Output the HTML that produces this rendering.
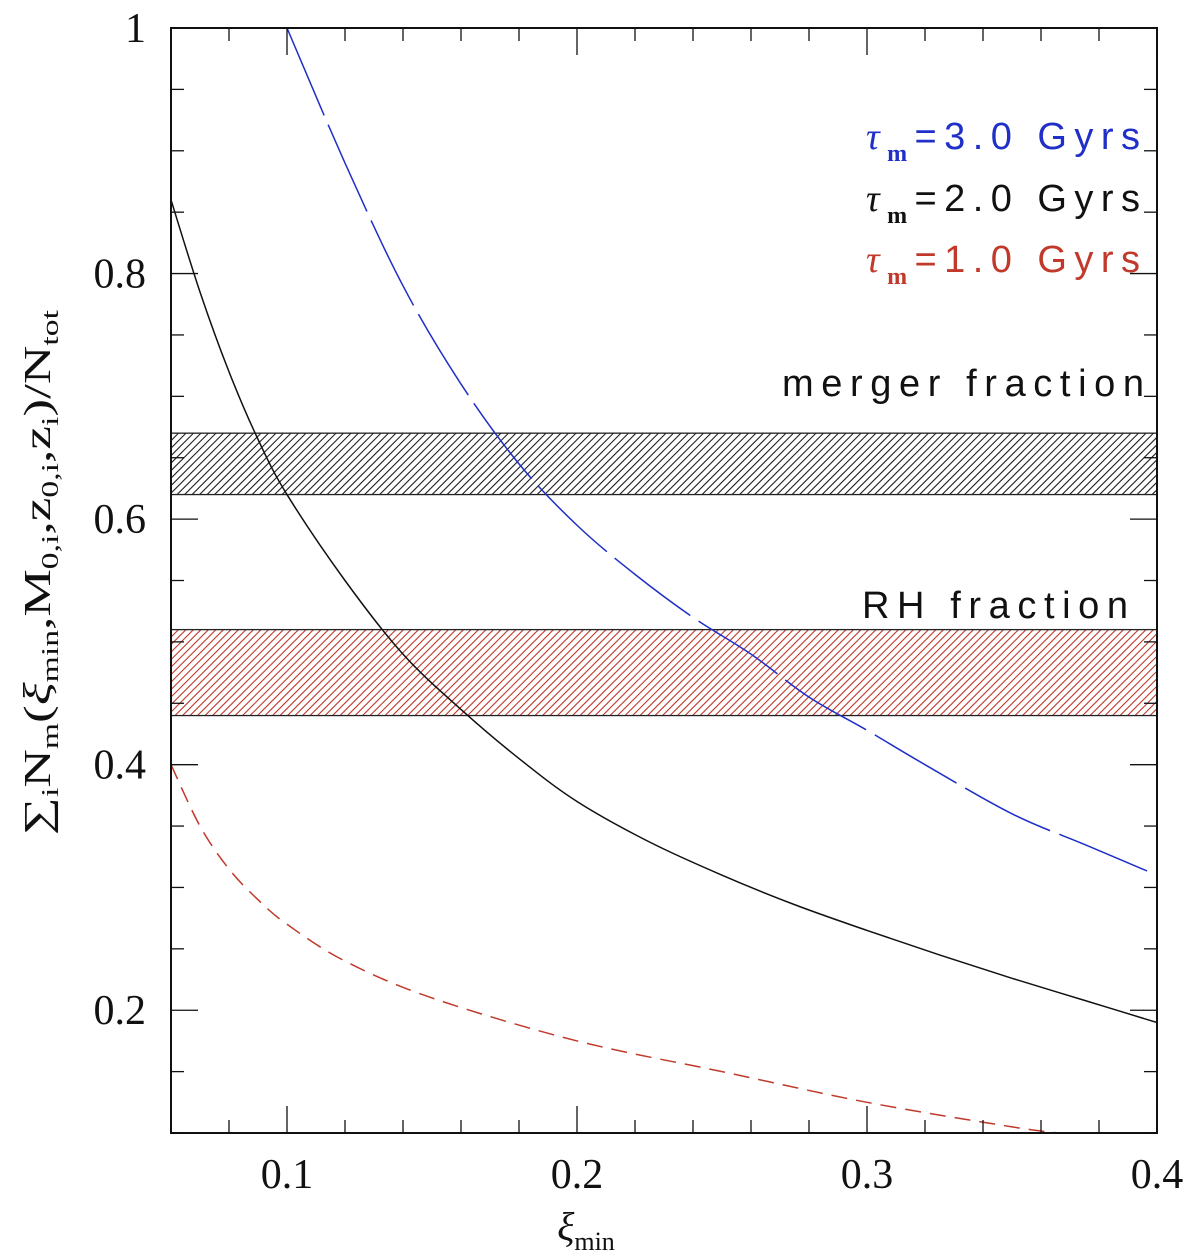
<!DOCTYPE html>
<html><head><meta charset="utf-8"><style>
html,body{margin:0;padding:0;background:#fff;}
svg{display:block;font-family:"Liberation Serif",serif;}
</style></head><body>
<svg id="chart" width="1200" height="1259" viewBox="0 0 1200 1259" xmlns="http://www.w3.org/2000/svg">
<defs>
<clipPath id="clip"><rect x="171" y="28" width="986" height="1105"/></clipPath>
<clipPath id="clipM"><rect id="clipMr" x="0" y="0" width="0" height="0"/></clipPath>
<clipPath id="clipR"><rect id="clipRr" x="0" y="0" width="0" height="0"/></clipPath>
</defs>
<g id="bands"></g>
<g id="curves"></g>
<g id="axes"></g>
<text x="866" y="149" font-size="38" fill="#1f2fc8" font-family="Liberation Sans,sans-serif" textLength="274" lengthAdjust="spacing"><tspan font-style="italic" font-family="Liberation Serif,serif">τ</tspan><tspan font-size="24" dy="12" font-family="Liberation Serif,serif" font-weight="bold">m</tspan><tspan dy="-12">=3.0 Gyrs</tspan></text>
<text x="866" y="211" font-size="38" fill="#111" font-family="Liberation Sans,sans-serif" textLength="274" lengthAdjust="spacing"><tspan font-style="italic" font-family="Liberation Serif,serif">τ</tspan><tspan font-size="24" dy="12" font-family="Liberation Serif,serif" font-weight="bold">m</tspan><tspan dy="-12">=2.0 Gyrs</tspan></text>
<text x="866" y="272" font-size="38" fill="#c0392b" font-family="Liberation Sans,sans-serif" textLength="274" lengthAdjust="spacing"><tspan font-style="italic" font-family="Liberation Serif,serif">τ</tspan><tspan font-size="24" dy="12" font-family="Liberation Serif,serif" font-weight="bold">m</tspan><tspan dy="-12">=1.0 Gyrs</tspan></text>
<text x="782" y="396" font-size="38" fill="#111" font-family="Liberation Sans,sans-serif" textLength="362" lengthAdjust="spacing">merger fraction</text>
<text x="862" y="618" font-size="38" fill="#111" font-family="Liberation Sans,sans-serif" textLength="266" lengthAdjust="spacing">RH fraction</text>
<text x="586" y="1240" text-anchor="middle" font-size="40" fill="#111"><tspan font-style="italic">ξ</tspan><tspan font-size="26" dy="10">min</tspan></text>
<text transform="translate(50,835) rotate(-90)" font-size="38" fill="#111" textLength="525" lengthAdjust="spacingAndGlyphs">∑<tspan font-size="24" dy="8">i</tspan><tspan dy="-8">N</tspan><tspan font-size="24" dy="8">m</tspan><tspan dy="-8">(</tspan><tspan font-style="italic">ξ</tspan><tspan font-size="24" dy="8">min</tspan><tspan dy="-8">,M</tspan><tspan font-size="24" dy="8">0,i</tspan><tspan dy="-8">,z</tspan><tspan font-size="24" dy="8">0,i</tspan><tspan dy="-8">,z</tspan><tspan font-size="24" dy="8">i</tspan><tspan dy="-8">)/N</tspan><tspan font-size="24" dy="8">tot</tspan></text>
</svg>
<script>
const xTickValues=[0.1,0.2,0.3,0.4];
const xTickLabels=["0.1","0.2","0.3","0.4"];
const yTickValues=[0.2,0.4,0.6,0.8,1];
const yTickLabels=["0.2","0.4","0.6","0.8","1"];
const bandMerger=[0.62,0.67];
const bandRH=[0.44,0.51];
const xiValues=[0.06,0.07,0.08,0.09,0.1,0.12,0.14,0.16,0.18,0.2,0.225,0.25,0.275,0.3,0.325,0.35,0.375,0.4];
const tau2Values=[0.86,0.785,0.72,0.665,0.62,0.55,0.49,0.445,0.405,0.37,0.337,0.31,0.286,0.265,0.245,0.226,0.208,0.19];
const tau3Xi=[0.1,0.12,0.14,0.16,0.18,0.2,0.22,0.24,0.26,0.28,0.3,0.32,0.35,0.375,0.4];
const tau3Values=[1.0,0.89,0.79,0.71,0.645,0.595,0.555,0.52,0.49,0.455,0.428,0.40,0.36,0.335,0.31];
const tau1Xi=[0.06,0.07,0.08,0.09,0.1,0.12,0.15,0.2,0.25,0.3,0.35,0.366];
const tau1Values=[0.40,0.35,0.315,0.29,0.27,0.24,0.21,0.175,0.15,0.125,0.105,0.1];

const X0=171,X1=1157,Y0=28,Y1=1133,xmin=0.06,xmax=0.4,ymin=0.1,ymax=1;
const sx=v=>X0+(v-xmin)/(xmax-xmin)*(X1-X0);
const sy=v=>Y1-(v-ymin)/(ymax-ymin)*(Y1-Y0);
const NS="http://www.w3.org/2000/svg";
function mk(tag,attrs,parent){const e=document.createElementNS(NS,tag);for(const k in attrs)e.setAttribute(k,attrs[k]);parent.appendChild(e);return e;}
const bands=document.getElementById('bands'),curves=document.getElementById('curves'),axes=document.getElementById('axes');

function hatchBand(lo,hi,color,clipId,name){
  const yt=sy(hi),yb=sy(lo),h=yb-yt;
  const r=document.getElementById(clipId+'r');
  r.setAttribute('x',X0);r.setAttribute('y',yt);r.setAttribute('width',X1-X0);r.setAttribute('height',h);
  const g=mk('g',{'clip-path':'url(#'+clipId+')'},bands);
  
  
  let d='';
  for(let x=X0-h;x<X1+h;x+=7.5){d+=`M${x},${yb} L${x+h},${yt} `;}
  mk('path',{d:d,stroke:color,'stroke-width':1.1,fill:'none'},g);
  mk('rect',{x:X0,y:yt,width:X1-X0,height:h,fill:'none',stroke:'#222','stroke-width':1.3},bands);
}
hatchBand(bandMerger[0],bandMerger[1],'#222','clipM','merger-fraction-band');
hatchBand(bandRH[0],bandRH[1],'#c0392b','clipR','rh-fraction-band');

function smoothPath(xs,ys){
  const p=xs.map((x,i)=>[sx(x),sy(ys[i])]);
  let d=`M${p[0][0]},${p[0][1]}`;
  for(let i=0;i<p.length-1;i++){
    const p0=p[Math.max(0,i-1)],p1=p[i],p2=p[i+1],p3=p[Math.min(p.length-1,i+2)];
    const c1=[p1[0]+(p2[0]-p0[0])/6,p1[1]+(p2[1]-p0[1])/6];
    const c2=[p2[0]-(p3[0]-p1[0])/6,p2[1]-(p3[1]-p1[1])/6];
    d+=` C${c1[0]},${c1[1]} ${c2[0]},${c2[1]} ${p2[0]},${p2[1]}`;
  }
  return d;
}
let c=mk('path',{d:smoothPath(xiValues,tau2Values),fill:'none',stroke:'#111','stroke-width':1.5,'clip-path':'url(#clip)'},curves);


c=mk('path',{d:smoothPath(tau3Xi,tau3Values),fill:'none',stroke:'#1f2fc8','stroke-width':1.5,'stroke-dasharray':'95 10','clip-path':'url(#clip)'},curves);


c=mk('path',{d:smoothPath(tau1Xi,tau1Values),fill:'none',stroke:'#c0392b','stroke-width':1.5,'stroke-dasharray':'16 9','clip-path':'url(#clip)'},curves);



let fr=mk('rect',{x:X0,y:Y0,width:X1-X0,height:Y1-Y0,fill:'none',stroke:'#111','stroke-width':2},axes);


for(let i=4;i<=20;i++){const v=i*0.02;if(v<xmin-1e-9||v>xmax+1e-9)continue;
  const major=Math.abs(v*10-Math.round(v*10))<1e-6;const L=major?27:13;const x=sx(v);
  mk('line',{x1:x,y1:Y1,x2:x,y2:Y1-L,stroke:'#111','stroke-width':1.3},axes);
  mk('line',{x1:x,y1:Y0,x2:x,y2:Y0+L,stroke:'#111','stroke-width':1.3},axes);}
for(let i=2;i<=20;i++){const v=i*0.05;if(v<ymin-1e-9)continue;
  const major=Math.abs(v*5-Math.round(v*5))<1e-6;const L=major?27:13;const y=sy(v);
  mk('line',{x1:X0,y1:y,x2:X0+L,y2:y,stroke:'#111','stroke-width':1.3},axes);
  mk('line',{x1:X1,y1:y,x2:X1-L,y2:y,stroke:'#111','stroke-width':1.3},axes);}
xTickValues.forEach((v,i)=>{const t=mk('text',{x:sx(v),y:1188,'text-anchor':'middle','font-size':42,fill:'#111'},axes);t.textContent=xTickLabels[i];

});
yTickValues.forEach((v,i)=>{const t=mk('text',{x:146,y:sy(v)+14,'text-anchor':'end','font-size':42,fill:'#111'},axes);t.textContent=yTickLabels[i];

});
</script>
</body></html>
